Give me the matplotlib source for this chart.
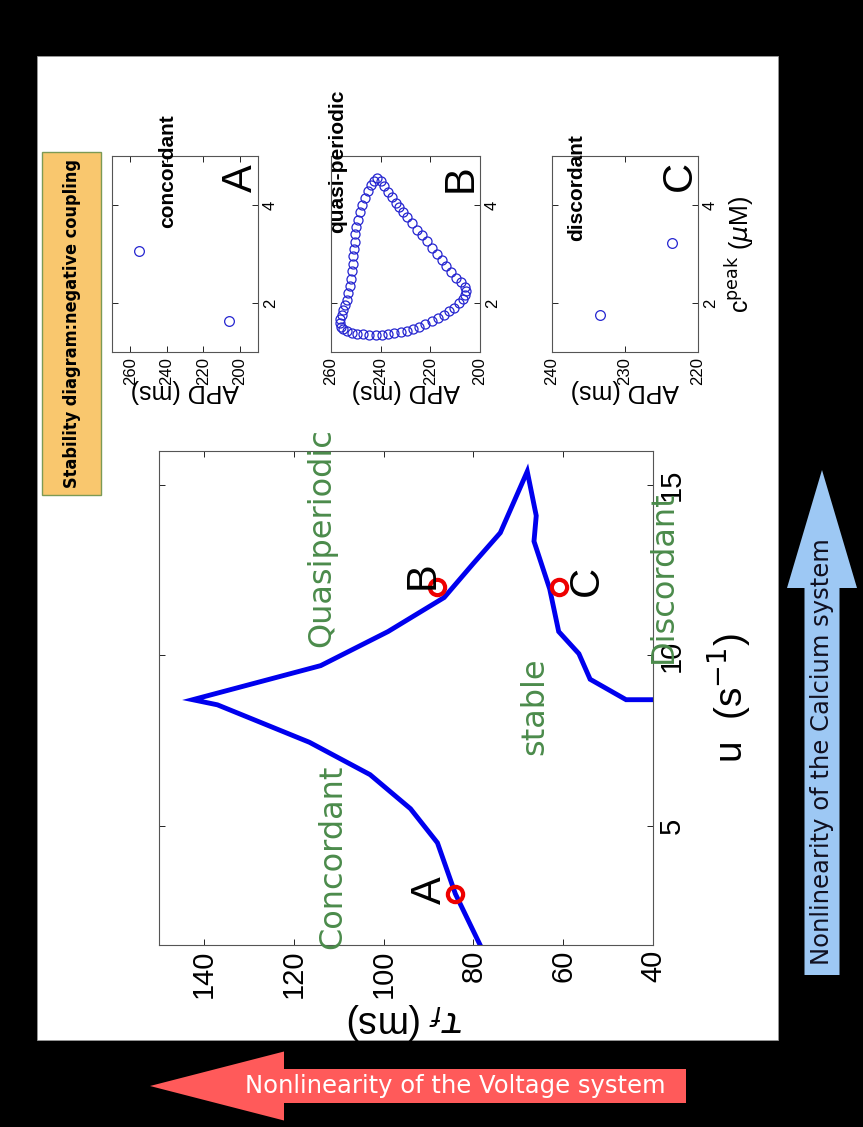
import matplotlib
matplotlib.use("Agg")
import matplotlib.pyplot as plt
from matplotlib.patches import Rectangle, FancyArrow

plt.rcParams['font.family'] = ['Liberation Sans', 'DejaVu Sans']

# stability boundary: tau_f (ms) against u (1/s)
curve_tau = [78.5, 84, 88, 94, 103, 116.5, 137, 142.5, 114, 99, 86.5, 80, 74, 68,
             66, 66.5, 63, 61, 56.5, 54, 46, 40]
curve_u = [1.5, 3.0, 4.5, 5.5, 6.5, 7.45, 8.55, 8.7, 9.7, 10.7, 11.7, 12.7, 13.6, 15.4,
           14.1, 13.35, 11.95, 10.7, 10.05, 9.3, 8.7, 8.7]

# sample points A, B, C
pt_names = ['A', 'B', 'C']
pt_tau = [84, 88, 61]
pt_u = [3.0, 12.0, 12.0]

# beat-to-beat APD vs peak calcium
apd_a = [255, 206]
cpk_a = [3.06, 1.64]
apd_c = [233.4, 223.6]
cpk_c = [1.76, 3.23]
apd_b = [241.5, 240, 238.5, 237, 235.5, 234, 232.5, 231, 229.5, 227.5, 225.5, 223.5,
         221.5, 219.5, 217.5, 215.5, 213.5, 211.5, 209.5, 207.5, 206.2, 205.8, 206, 207,
         208.5, 210.5, 212.5, 214.5, 217, 219.5, 222, 224.5, 227, 229.5, 232, 234.5,
         237, 239.5, 242, 244.5, 247, 249.5, 251.5, 253.5, 255, 256, 256.5, 256.3,
         255.7, 255, 254.2, 253.5, 253, 252.5, 252, 251.6, 251.3, 251, 250.7, 250.5,
         250.2, 249.8, 249.2, 248.5, 247.5, 246.3, 245, 243.8, 242.6]
cpk_b = [4.55, 4.5, 4.38, 4.27, 4.16, 4.05, 3.95, 3.85, 3.75, 3.63, 3.5, 3.38,
         3.26, 3.13, 3.0, 2.87, 2.75, 2.63, 2.52, 2.42, 2.33, 2.25, 2.17, 2.08,
         1.99, 1.9, 1.83, 1.76, 1.7, 1.63, 1.57, 1.52, 1.47, 1.43, 1.4, 1.38,
         1.36, 1.35, 1.35, 1.35, 1.36, 1.37, 1.39, 1.42, 1.46, 1.52, 1.6, 1.68,
         1.76, 1.85, 1.95, 2.07, 2.2, 2.35, 2.5, 2.65, 2.8, 2.95, 3.1, 3.25,
         3.4, 3.55, 3.7, 3.85, 4.0, 4.15, 4.28, 4.4, 4.5]

W, H = 863, 1127
fig = plt.figure(figsize=(W / 100, H / 100), dpi=100, facecolor='black')

# slide background, title box and arrows (pixel coordinates)
bg = fig.add_axes([0, 0, 1, 1])
bg.set_xlim(0, W)
bg.set_ylim(H, 0)
bg.axis('off')
bg.add_patch(Rectangle((37, 56), 741, 984, facecolor='white', edgecolor='#999999', lw=0.6))
bg.add_patch(Rectangle((42, 152), 59, 343, facecolor='#F9C76E', edgecolor='#7C9A55', lw=1))
bg.text(72, 323, 'Stability diagram:negative coupling', rotation=90, ha='center', va='center',
        fontsize=13, fontweight='bold', fontstretch='condensed', family='DejaVu Sans')
bg.add_patch(FancyArrow(822, 975, 0, -505, width=35, head_width=70, head_length=118,
                        length_includes_head=True, facecolor='#9DC8F4', edgecolor='none'))
bg.text(822, 752, 'Nonlinearity of the Calcium system', rotation=90, ha='center', va='center',
        fontsize=17.5, family='DejaVu Sans', color='#101020')
bg.add_patch(FancyArrow(686, 1086, -536, 0, width=34, head_width=69, head_length=134,
                        length_includes_head=True, facecolor='#FF5A5A', edgecolor='none'))
bg.text(455, 1086, 'Nonlinearity of the Voltage system', ha='center', va='center',
        fontsize=17.5, family='DejaVu Sans', color='white')


def style_axes(ax, size):
    ax.tick_params(direction='in', top=True, bottom=True, left=True, right=True,
                   labelleft=False, labelright=True, labelsize=size, length=4, width=0.6)
    ax.tick_params(axis='x', labelrotation=90)
    ax.tick_params(axis='y', labelrotation=90)
    for lab in ax.get_yticklabels():
        lab.set_va('center')
    for sp in ax.spines.values():
        sp.set_color('#555555')
        sp.set_linewidth(0.8)


# main stability diagram
ax = fig.add_axes([159 / W, 1 - 945 / H, 494 / W, 494 / H])
ax.plot(curve_tau, curve_u, color='#0000EE', lw=3.5, solid_joinstyle='miter')
ax.plot(pt_tau, pt_u, 'o', mfc='none', mec='#EE0000', ms=11, mew=3)
ax.set_xlim(150, 40)
ax.set_ylim(1.5, 16)
ax.set_xticks([40, 60, 80, 100, 120, 140])
ax.set_yticks([5, 10, 15])
style_axes(ax, 21)
ax.set_xlabel(r'$\tau_f$ (ms)', fontsize=27, rotation=180, labelpad=2)
ax.yaxis.set_label_position('right')
ax.set_ylabel('u  (s$^{-1}$)', fontsize=28, rotation=90, labelpad=14)

letter_tau = [89.7, 91.2, 54.7]
letter_u = [3.1, 12.35, 12.2]
for name, t, u in zip(pt_names, letter_tau, letter_u):
    ax.text(t, u, name, rotation=90, ha='center', va='center', fontsize=30)

green = '#4B8B4B'
region_names = ['Concordant', 'Quasiperiodic', 'stable', 'Discordant']
region_tau = [111.3, 113.7, 66.3, 37.8]
region_u = [4.1, 13.45, 8.5, 12.3]
for name, t, u in zip(region_names, region_tau, region_u):
    ax.text(t, u, name, rotation=90, ha='center', va='center', fontsize=23,
            family='DejaVu Sans', color=green, clip_on=False)

# small APD vs c_peak panels
panels = [
    ([112, 146], apd_a, cpk_a, (270, 190), [200, 220, 240, 260], 'concordant', (239.5, 3.54), 'A', (199.3, 4.55), 7),
    ([331, 149], apd_b, cpk_b, (260, 200), [200, 220, 240, 260], 'quasi-periodic', (257.5, 3.43), 'B', (208, 4.55), 6.5),
    ([552, 146], apd_c, cpk_c, (240, 220), [220, 230, 240], 'discordant', (236.6, 3.26), 'C', (222.5, 4.6), 7),
]
for i, (pos, apd, cpk, xl, xt, title, tpos, letter, lpos, ms) in enumerate(panels):
    sax = fig.add_axes([pos[0] / W, 1 - 352 / H, pos[1] / W, 196 / H])
    sax.plot(apd, cpk, 'o', mfc='none', mec='#2525D0', ms=ms, mew=0.9)
    sax.set_xlim(*xl)
    sax.set_ylim(1, 5)
    sax.set_xticks(xt)
    sax.set_yticks([2, 4])
    style_axes(sax, 12)
    sax.set_xlabel('APD (ms)', fontsize=18, rotation=180, labelpad=-4)
    sax.text(tpos[0], tpos[1], title, rotation=90, rotation_mode='anchor', ha='left', va='center',
             fontsize=15, fontweight='bold', clip_on=False)
    sax.text(lpos[0], lpos[1], letter, rotation=90, ha='center', va='center', fontsize=30)
    if i == 2:
        sax.yaxis.set_label_position('right')
        sax.set_ylabel(r'c$^{\rm peak}$ ($\mu$M)', fontsize=18, rotation=90, labelpad=4)

fig.savefig('out.png', dpi=100)
